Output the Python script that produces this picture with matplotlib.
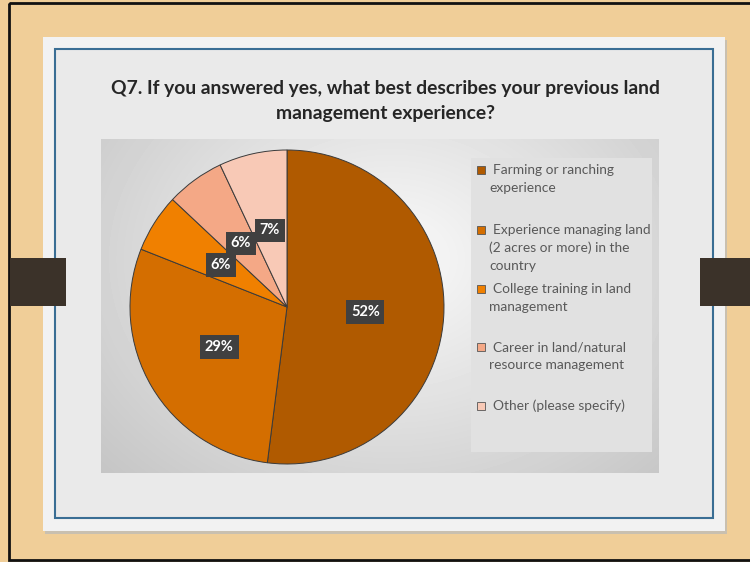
import numpy as np
import matplotlib
matplotlib.use("Agg")
import matplotlib.pyplot as plt
from matplotlib.patches import Rectangle

# ── Data ──
labels = [
    "Farming or ranching\nexperience",
    "Experience managing land\n(2 acres or more) in the\ncountry",
    "College training in land\nmanagement",
    "Career in land/natural\nresource management",
    "Other (please specify)",
]
shares = [52, 29, 6, 6, 7]
colors = ["#B05A00", "#D46E00", "#F08000", "#F4A886", "#F8C9B6"]
title = ("Q7. If you answered yes, what best describes your previous land\n"
         "management experience?")

W, H = 750, 562
fig = plt.figure(figsize=(W / 100, H / 100), dpi=100)

# ── Slide background (pixel coordinates) ──
bg = fig.add_axes([0, 0, 1, 1])
bg.set_xlim(0, W)
bg.set_ylim(H, 0)
bg.axis("off")
bg.add_patch(Rectangle((0, 0), W, H, fc="#F0CE98", ec="none"))
bg.add_patch(Rectangle((9, 3), W, 557, fc="none", ec="#111111", lw=2))
bg.add_patch(Rectangle((45, 40), 682, 494, fc="#C9C0B0", ec="none"))   # card shadow
bg.add_patch(Rectangle((43, 37), 682, 494, fc="#F2F2F2", ec="none"))
bg.add_patch(Rectangle((55, 49), 658, 469, fc="#EAEAEA", ec="#3A6E94", lw=1.5))

# side tabs
bg.add_patch(Rectangle((10, 258), 56, 48, fc="#3B3229", ec="none"))
bg.add_patch(Rectangle((700, 258), 50, 48, fc="#3B3229", ec="none"))

# chart area with radial gradient
cx0, cy0, cw, ch = 101, 139, 558, 334
yy, xx = np.mgrid[0:ch, 0:cw]
d = np.hypot((xx - 290) / 420, (yy - 120) / 330)
grad = 0.98 - 0.22 * np.clip(d, 0, 1)
bg.imshow(grad, cmap="gray", vmin=0, vmax=1,
          extent=(cx0, cx0 + cw, cy0 + ch, cy0), zorder=2, aspect="auto")
bg.add_patch(Rectangle((471, 158), 181, 294, fc="#E1E1E1", ec="none", zorder=3))

# title
bg.text(385, 101, title, ha="center", va="center", fontsize=13.9,
        fontweight="bold", family="Lato", color="#262626", linespacing=1.55)

# ── Pie ──
pcx, pcy, r = 287, 307, 157
ax = fig.add_axes([(pcx - r) / W, 1 - (pcy + r) / H, 2 * r / W, 2 * r / H])
wedges, _, autotexts = ax.pie(
    shares, colors=colors, startangle=90, counterclock=False,
    autopct="%d%%", pctdistance=0.5,
    wedgeprops=dict(edgecolor="#3A3A3A", linewidth=0.7),
)
for t in autotexts:
    t.set_color("white")
    t.set_fontweight("bold")
    t.set_fontsize(10.5)
    t.set_family("Lato")
    t.set_bbox(dict(boxstyle="square,pad=0.32", fc="#404040", ec="none"))
ax.set_xlim(-1, 1)
ax.set_ylim(-1, 1)
ax.set_aspect("auto")
ax.axis("off")

# ── Legend ──
ly = [170, 230, 289, 347, 406]
for lab, col, y in zip(labels, colors, ly):
    bg.add_patch(Rectangle((477, y - 4), 8, 8, fc=col, ec="#555555", lw=0.6, zorder=4))
    first, *rest = lab.split("\n")
    bg.text(493, y, first, ha="left", va="center", fontsize=9.9,
            family="Lato", color="#595959", zorder=4)
    for k, line in enumerate(rest, start=1):
        bg.text(489, y + 18 * k, line, ha="left", va="center", fontsize=9.9,
                family="Lato", color="#595959", zorder=4)

fig.savefig("out.png", dpi=100)
